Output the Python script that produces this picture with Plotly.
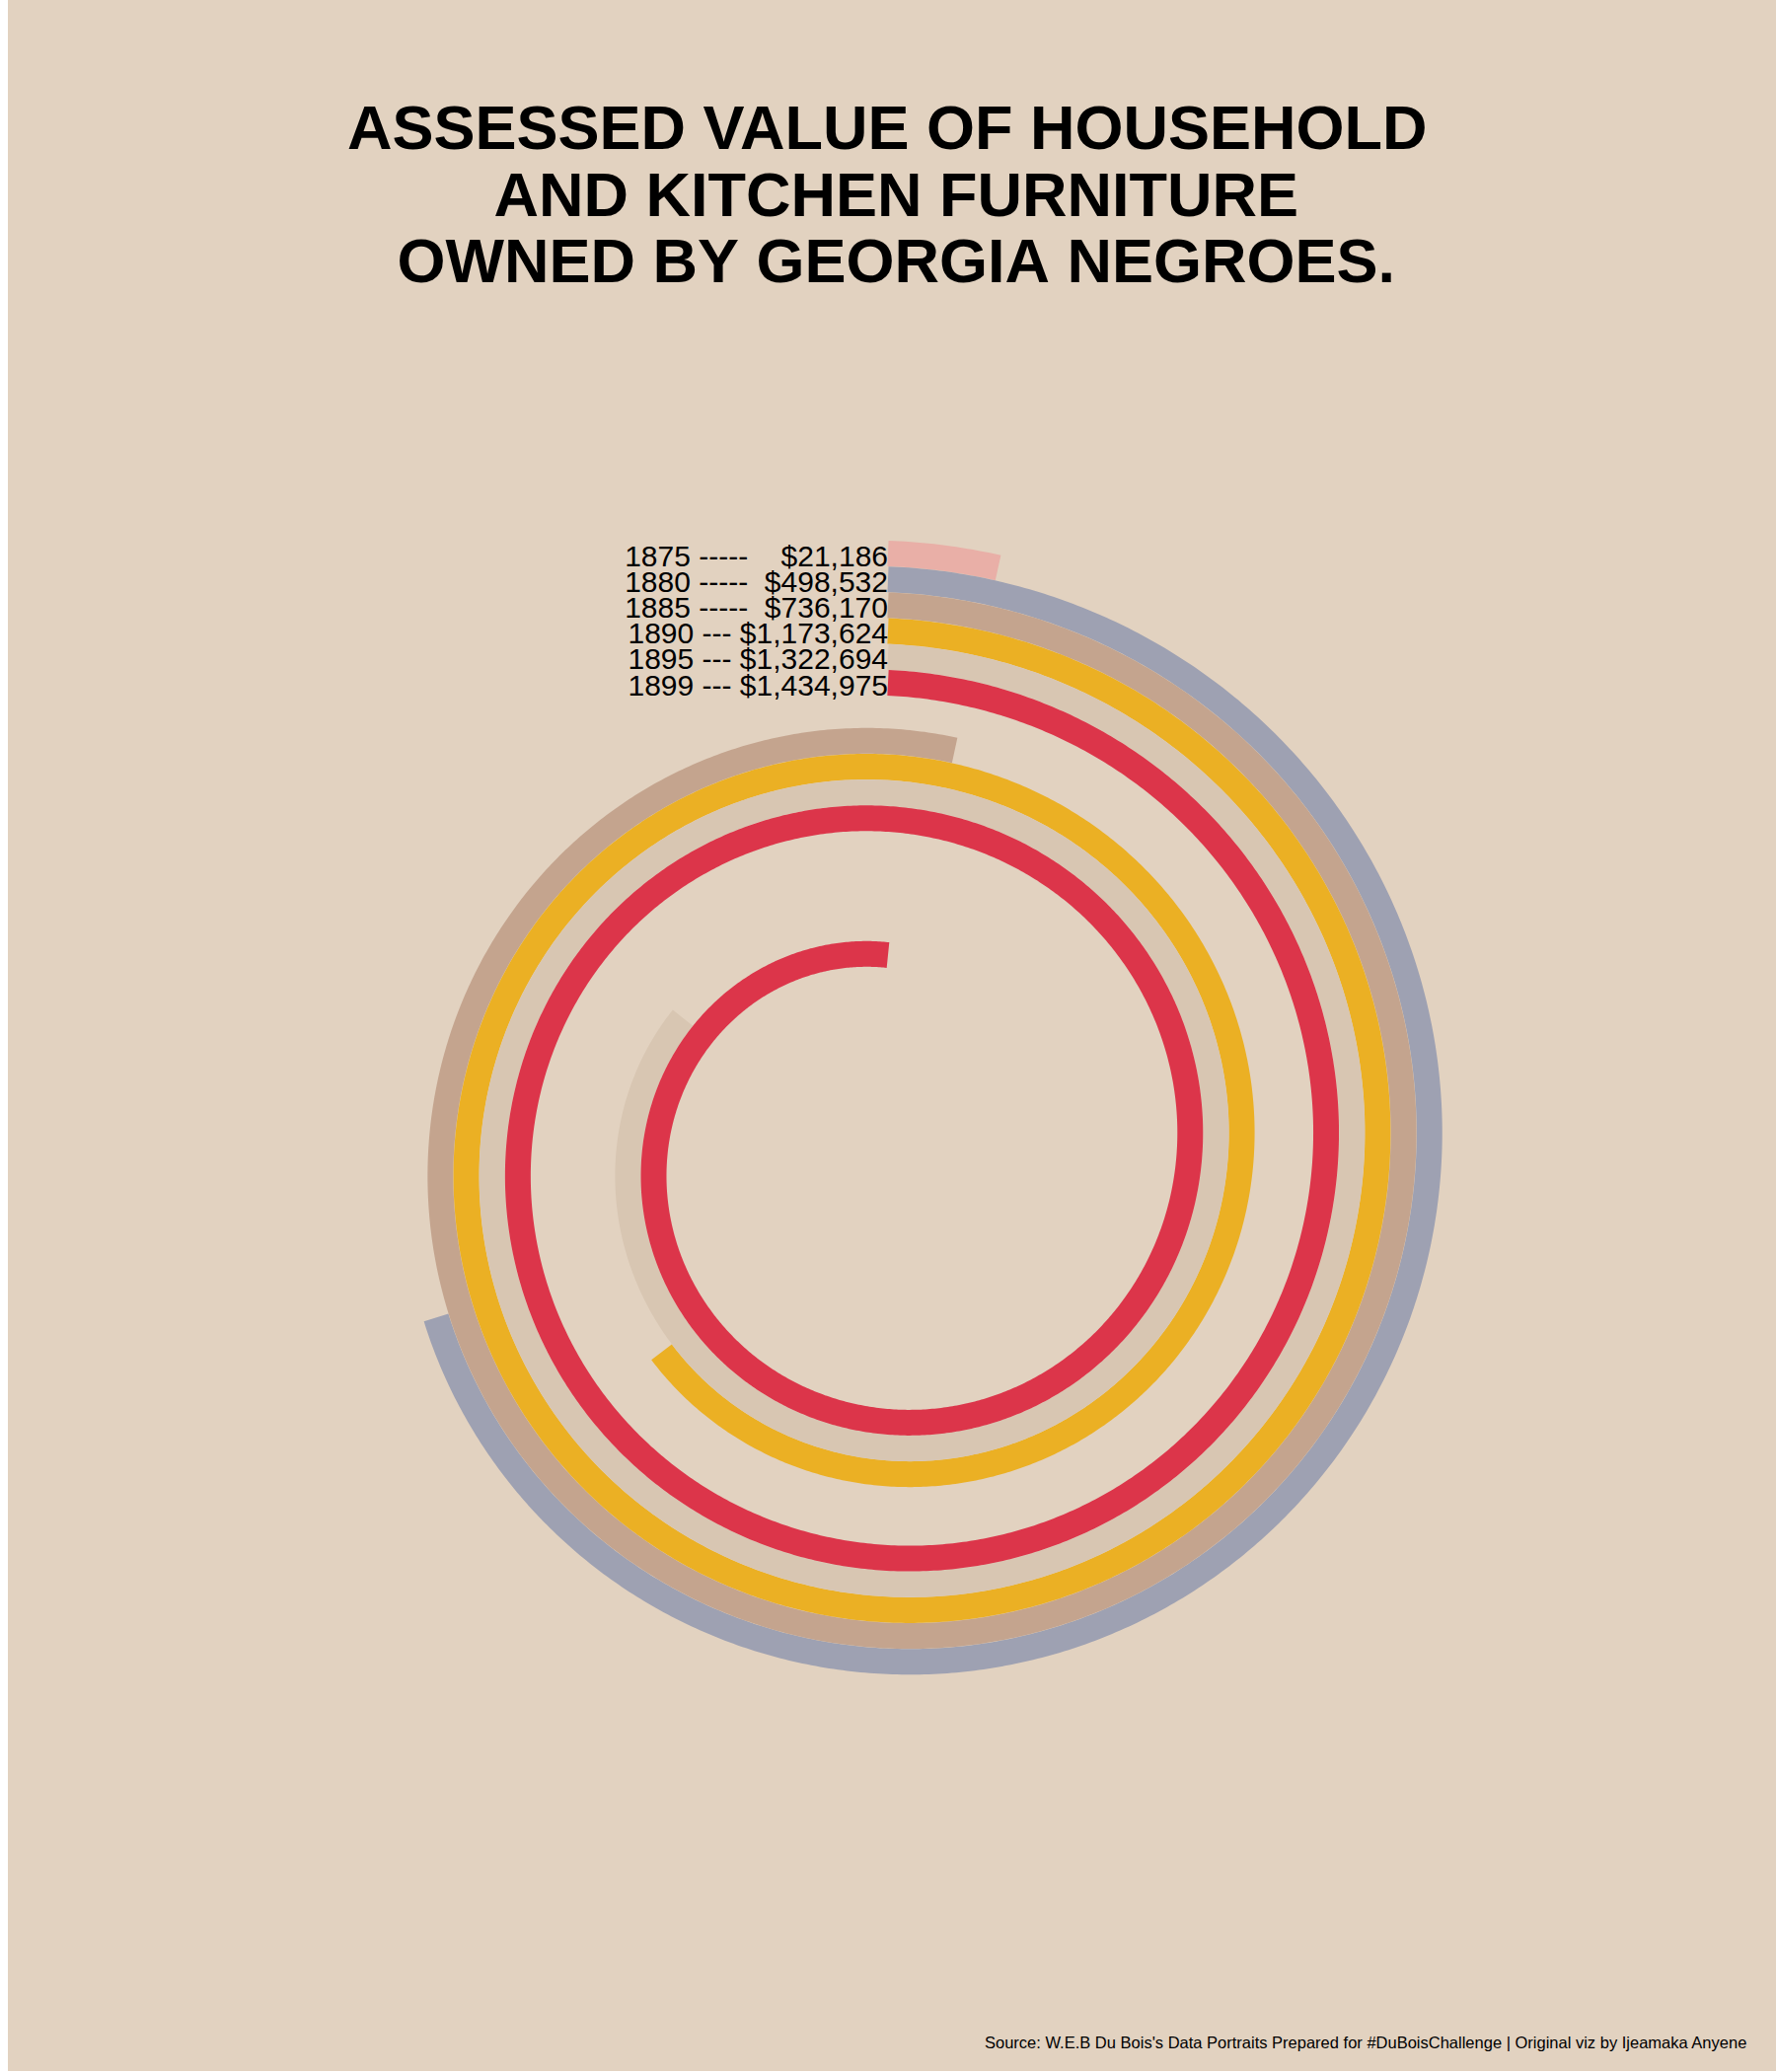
import numpy as np
import plotly.graph_objects as go

# ---------------- data ----------------
years = [1875, 1880, 1885, 1890, 1895, 1899]
values = [21186, 498532, 736170, 1173624, 1322694, 1434975]
labels = [
    "1875 -----    $21,186",
    "1880 -----  $498,532",
    "1885 -----  $736,170",
    "1890 --- $1,173,624",
    "1895 --- $1,322,694",
    "1899 --- $1,434,975",
]
colors = ["#e9afa7", "#9ea1b2", "#c4a48e", "#ebb024", "#d8c6b2", "#dc354a"]

title_lines = [
    "ASSESSED VALUE OF HOUSEHOLD",
    " AND KITCHEN FURNITURE",
    " OWNED BY GEORGIA NEGROES.",
]
caption = ("Source: W.E.B Du Bois's Data Portraits Prepared for #DuBoisChallenge"
           " | Original viz by Ijeamaka Anyene")

# ---------------- style ----------------
BG = "#e2d2c0"
W, H = 1800, 2100
TURNS_AT_MAX = 2.0      # the largest value wraps twice around
R_LAST_START = 478      # start radius of the last (innermost) year
YEAR_GAP = 26.2         # radial gap between consecutive years
TURN_GAP = 138          # radius lost per full turn
LINE_W = 26
LABEL_DY = 5            # small downward nudge of the labels (px)
POLAR_HALF = 630        # half size of polar area (px == radial units)
CX, CY = 900, 1170      # polar centre in pixels (from top-left)
FONT = "Liberation Sans, Arial, Helvetica, sans-serif"

fig = go.Figure()

vmax = max(values)
n = len(years)
start_r = []
for i, (yr, v, c) in enumerate(zip(years, values, colors)):
    end_deg = v / vmax * 360 * TURNS_AT_MAX
    theta = np.linspace(0, end_deg, max(int(end_deg * 2), 2))
    r0 = R_LAST_START + (n - 1 - i) * YEAR_GAP
    start_r.append(r0)
    r = r0 - theta / 360 * TURN_GAP
    fig.add_trace(go.Scatterpolar(
        r=r, theta=theta, mode="lines",
        line=dict(color=c, width=LINE_W),
        hoverinfo="skip", showlegend=False,
    ))

fig.add_trace(go.Scatterpolar(
    r=[r - LABEL_DY for r in start_r], theta=[0] * n, mode="text",
    text=[t.replace(" ", "\u00a0") for t in labels],
    textposition="middle left",
    textfont=dict(family=FONT, size=30, color="black"),
    hoverinfo="skip", showlegend=False,
))

annotations = []
title_y = [129, 197, 264]
for line, yy in zip(title_lines, title_y):
    annotations.append(dict(
        text="<b>" + line.replace(" ", "\u00a0") + "</b>",
        x=899 / W, y=1 - yy / H, xref="paper", yref="paper",
        xanchor="center", yanchor="middle", showarrow=False,
        font=dict(family=FONT, size=63, color="black"),
    ))
annotations.append(dict(
    text=caption, x=1772 / W, y=1 - 2070 / H, xref="paper", yref="paper",
    xanchor="right", yanchor="middle", showarrow=False,
    font=dict(family=FONT, size=16.5, color="black"),
))

fig.update_layout(
    width=W, height=H,
    margin=dict(l=0, r=0, t=0, b=0),
    paper_bgcolor="white",
    plot_bgcolor=BG,
    shapes=[dict(type="rect", xref="paper", yref="paper",
                 x0=8 / W, x1=1, y0=1 / H, y1=1,
                 fillcolor=BG, line=dict(width=0), layer="below")],
    polar=dict(
        domain=dict(x=[(CX - POLAR_HALF) / W, (CX + POLAR_HALF) / W],
                    y=[(H - CY - POLAR_HALF) / H, (H - CY + POLAR_HALF) / H]),
        bgcolor="rgba(0,0,0,0)",
        radialaxis=dict(range=[0, POLAR_HALF], visible=False, showgrid=False,
                        showline=False, showticklabels=False, ticks=""),
        angularaxis=dict(rotation=90, direction="clockwise", visible=False,
                         showgrid=False, showline=False, showticklabels=False,
                         ticks=""),
    ),
    annotations=annotations,
    font=dict(family=FONT),
)

fig.write_html("out.html")
